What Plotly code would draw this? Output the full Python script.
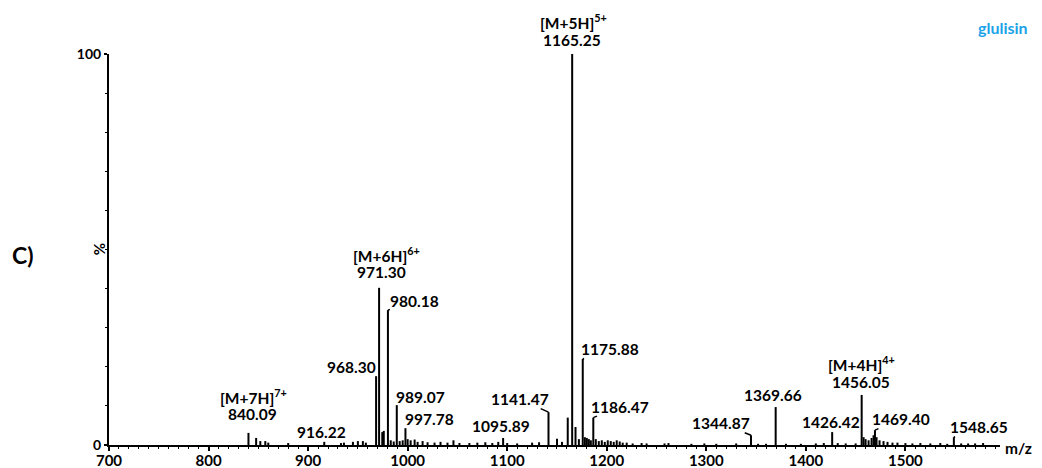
import plotly.graph_objects as go

# ---------------- data ----------------
peak_mz = [840.09, 847.8, 852.0, 857.0, 860.0, 880.0, 916.22, 933.0, 936.0, 945.0,
           950.0, 955.0, 958.0, 968.30, 971.30, 974.5, 976.0, 980.18, 983.0, 986.0,
           989.07, 992.0, 995.0, 997.78, 1000.0, 1003.0, 1007.0, 1010.0, 1015.0, 1020.0,
           1027.0, 1033.0, 1040.0, 1046.0, 1052.0, 1062.0, 1070.0, 1078.0, 1085.0, 1091.0,
           1095.89, 1100.0, 1110.0, 1125.0, 1132.0, 1141.47, 1150.0, 1155.0, 1160.8, 1165.25,
           1168.6, 1172.0, 1175.88, 1178.0, 1180.0, 1182.0, 1184.0, 1186.47, 1189.0, 1192.0,
           1195.0, 1198.0, 1201.0, 1204.0, 1207.0, 1210.0, 1213.0, 1216.0, 1220.0, 1226.0,
           1235.0, 1240.0, 1258.0, 1262.0, 1285.0, 1298.0, 1310.0, 1330.0, 1344.87, 1352.0,
           1360.0, 1369.66, 1380.0, 1395.0, 1410.0, 1418.0, 1426.42, 1432.0, 1440.0, 1450.0,
           1456.05, 1458.0, 1460.0, 1463.0, 1466.0, 1468.0, 1469.40, 1471.0, 1474.0, 1478.0,
           1482.0, 1487.0, 1492.0, 1500.0, 1507.0, 1515.0, 1525.0, 1535.0, 1542.0, 1548.65,
           1556.0, 1563.0, 1570.0, 1578.0]
peak_int = [3.1, 1.8, 1.0, 1.0, 0.6, 0.5, 0.8, 0.5, 0.6, 0.8,
            1.0, 1.0, 0.6, 17.6, 40.2, 3.3, 3.6, 34.5, 1.2, 0.9,
            10.2, 1.0, 1.2, 4.3, 1.5, 1.2, 1.4, 0.8, 1.0, 0.7,
            0.6, 0.8, 0.6, 1.2, 0.5, 0.5, 0.6, 0.7, 0.5, 0.8,
            1.8, 0.5, 0.4, 0.6, 0.7, 8.4, 1.6, 0.8, 7.0, 100.0,
            4.6, 1.5, 22.0, 2.0, 1.8, 1.5, 1.2, 7.0, 1.5, 1.0,
            1.2, 0.8, 1.2, 1.0, 0.8, 1.2, 0.9, 0.6, 0.6, 0.4,
            0.5, 0.4, 0.4, 0.5, 0.3, 0.4, 0.3, 0.4, 2.5, 0.3,
            0.3, 9.7, 0.3, 0.3, 0.4, 0.5, 3.3, 0.5, 0.4, 0.4,
            12.8, 2.0, 1.5, 1.2, 1.8, 2.5, 3.8, 2.0, 1.2, 1.0,
            0.8, 0.6, 0.6, 0.5, 0.4, 0.5, 0.4, 0.5, 0.3, 2.0,
            0.4, 0.4, 0.4, 0.5]

# labelled peaks: value label, ion label
label_mz = [840.09, 916.22, 968.30, 971.30, 980.18, 989.07, 997.78, 1095.89, 1141.47,
            1165.25, 1175.88, 1186.47, 1344.87, 1369.66, 1426.42, 1456.05, 1469.40, 1548.65]
label_int = [3.1, 0.8, 17.6, 40.2, 34.5, 10.2, 4.3, 1.8, 8.4,
             100.0, 22.0, 7.0, 2.5, 9.7, 3.3, 12.8, 3.8, 2.0]
label_text = ["840.09", "916.22", "968.30", "971.30", "980.18", "989.07", "997.78", "1095.89",
              "1141.47", "1165.25", "1175.88", "1186.47", "1344.87", "1369.66", "1426.42",
              "1456.05", "1469.40", "1548.65"]
ion_text = {840.09: "[M+7H]<sup>7+</sup>", 971.30: "[M+6H]<sup>6+</sup>",
            1165.25: "[M+5H]<sup>5+</sup>", 1456.05: "[M+4H]<sup>4+</sup>"}

x_ticks = [700, 800, 900, 1000, 1100, 1200, 1300, 1400, 1500]

# ---------------- layout / styling (pixel offsets of label centres) ----------------
label_offset = {840.09: (4, -19, False), 916.22: (-3, -10, False), 968.30: (-25, -9, True),
                971.30: (2, -16, False), 980.18: (27, -9, True), 989.07: (24, -8, True),
                997.78: (24, -9, True), 1095.89: (-2, -12, False), 1141.47: (-29, -13, True),
                1165.25: (0, -14, False), 1175.88: (27, -10, True), 1186.47: (27, -11, True),
                1344.87: (-30, -12, True), 1369.66: (-3, -12, False), 1426.42: (-1, -10, False),
                1456.05: (-1, -13, False), 1469.40: (26, -11, True), 1548.65: (25, -10, True)}
ion_offset = {840.09: (5, -36), 971.30: (7, -33), 1165.25: (1, -33), 1456.05: (0, -31)}

FONT = "Lato"
LS = 15.5

xs, ys = [], []
for m, v in zip(peak_mz, peak_int):
    xs += [m, m, None]
    ys += [0, v, None]

fig = go.Figure()
fig.add_trace(go.Scatter(x=xs, y=ys, mode="lines",
                         line=dict(color="black", width=2), hoverinfo="skip",
                         showlegend=False))

ann = []
for m, v, t in zip(label_mz, label_int, label_text):
    dx, dy, hook = label_offset[m]
    if hook:
        ann.append(dict(x=m, y=v, xref="x", yref="y", text="<b>%s</b>" % t,
                        showarrow=True, arrowhead=0, arrowwidth=1.5, arrowcolor="black",
                        ax=dx, ay=dy, standoff=0, startstandoff=0,
                        font=dict(family=FONT, size=LS, color="black"), borderpad=0))
    else:
        ann.append(dict(x=m, y=v, xref="x", yref="y", text="<b>%s</b>" % t,
                        showarrow=False, xshift=dx, yshift=-dy,
                        xanchor="center", yanchor="middle",
                        font=dict(family=FONT, size=LS, color="black")))
    if m in ion_text:
        ix, iy = ion_offset[m]
        ann.append(dict(x=m, y=v, xref="x", yref="y", text="<b>%s</b>" % ion_text[m],
                        showarrow=False, xshift=ix, yshift=-iy,
                        xanchor="center", yanchor="middle",
                        font=dict(family=FONT, size=LS, color="black")))

side = [
    (1.0213, -0.0077, "<b>m/z</b>", LS, "black", 0),
    (-0.096, 0.486, "<b>C)</b>", 23, "black", 0),
    (-0.0112, 0.501, "<b>%</b>", 15, "black", -90),
    (1.0034, 1.069, "<b>glulisin</b>", 16, "#1BA3E8", 0),
]
for x, y, t, s, c, a in side:
    ann.append(dict(x=x, y=y, xref="paper", yref="paper", text=t, showarrow=False,
                    xanchor="center", yanchor="middle", textangle=a,
                    font=dict(family=FONT, size=s, color=c)))

# the page body has an 8px margin, so the figure is drawn 8px in from the window corner
fig.update_layout(
    width=1034, height=460,
    margin=dict(l=101, r=42, t=46, b=23, autoexpand=False),
    paper_bgcolor="white", plot_bgcolor="white",
    annotations=ann,
    xaxis=dict(range=[700, 1595], tickvals=x_ticks, ticks="outside", ticklen=4, tickwidth=1.5,
               tickcolor="black", showline=True, linecolor="black", linewidth=2,
               showgrid=False, zeroline=False, ticklabelstandoff=-3,
               tickfont=dict(family=FONT, size=15, color="black", weight="bold"),
               minor=dict(dtick=10, ticks="outside", ticklen=2, tickcolor="black", tickwidth=1,
                          showgrid=False)),
    yaxis=dict(range=[0, 100], tickvals=[0, 100], ticktext=["0", "100"], ticks="outside",
               ticklen=3, tickwidth=1.5, tickcolor="black", showline=True, linecolor="black",
               linewidth=2, showgrid=False, zeroline=False,
               tickfont=dict(family=FONT, size=14, color="black", weight="bold"),
               minor=dict(dtick=10, ticks="outside", ticklen=2, tickcolor="black", tickwidth=1,
                          showgrid=False)),
)

fig.write_html("out.html")
